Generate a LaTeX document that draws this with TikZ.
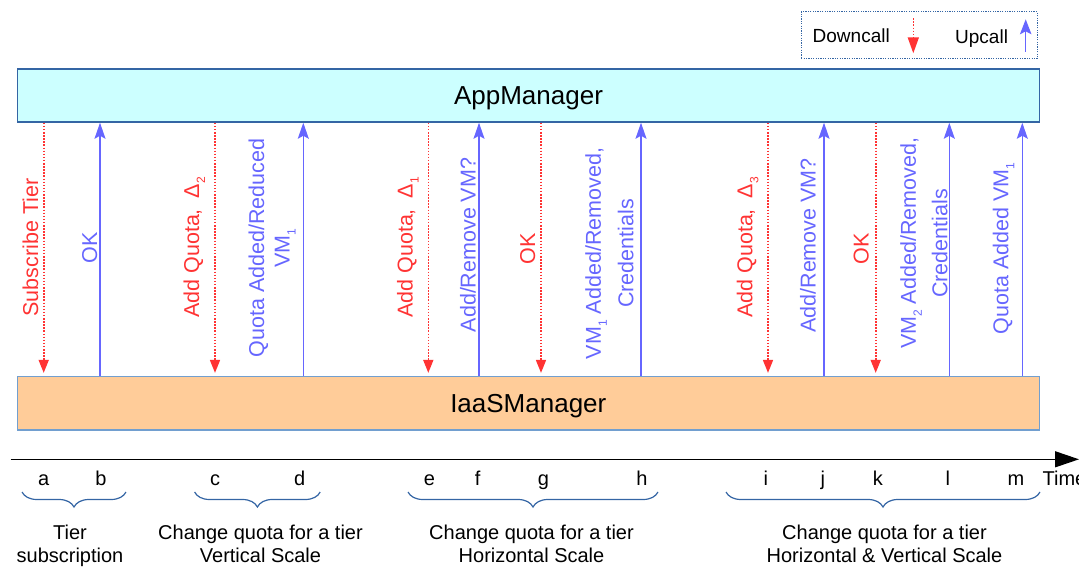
\documentclass[tikz,border=0pt]{standalone}
\usepackage{fontspec}
\setmainfont{Liberation Sans}
\usetikzlibrary{arrows.meta,decorations.pathreplacing}
\definecolor{appfill}{HTML}{CCFFFF}
\definecolor{iaasfill}{HTML}{FFCC99}
\definecolor{appedge}{HTML}{3465A4}
\definecolor{iaasedge}{HTML}{729FCF}
\definecolor{callred}{HTML}{FF3333}
\definecolor{callblue}{HTML}{6666FF}
\definecolor{bracecol}{HTML}{3465A4}
% lowered index digit, as in VM_1 or Delta_2
\newcommand{\lowidx}[1]{\raisebox{-6pt}{\fontsize{12}{12}\selectfont #1}}

\begin{document}
\begin{tikzpicture}[x=1pt,y=-1pt,
  manager/.style={line width=1.5pt, minimum width=1022pt, minimum height=53pt,
    inner sep=0pt, text depth=0pt, font=\fontsize{26}{30}\selectfont},
  downcall/.style={callred, line width=1.6pt, dash pattern=on 1.5pt off 1.6pt,
    -{Triangle[length=13pt,width=10pt]}},
  upcall/.style={callblue, line width=1.3pt,
    -{Stealth[length=16pt,width=11pt,inset=3pt]}},
  msg/.style={rotate=90, inner sep=0pt, font=\fontsize{21.5}{25.5}\selectfont},
  redmsg/.style={msg, text=callred},
  bluemsg/.style={msg, text=callblue, align=center},
  tick/.style={inner sep=0pt, anchor=base, font=\fontsize{20}{24}\selectfont},
  phase/.style={inner sep=0pt, anchor=north, align=center, font=\fontsize{20}{23}\selectfont},
  phasebrace/.style={draw=bracecol, line width=1.2pt,
    decorate, decoration={brace, mirror, amplitude=15pt}},
  legendtxt/.style={inner sep=0pt, anchor=base west, font=\fontsize{19}{23}\selectfont}
]
\useasboundingbox (0,0) rectangle (1079,567);

% legend
\node[draw=appedge, line width=1pt, dash pattern=on 1.2pt off 1.2pt,
      minimum width=236pt, minimum height=47pt, inner sep=0pt] (legend) at (919.2,35.3) {};
\node[legendtxt] (ldown) at (812.5,42.7) {Downcall};
\node[legendtxt] (lup) at (955,43.5) {Upcall};
\coordinate (dtop) at (913.3,18.3);
\coordinate (dbot) at (913.3,53.3);
\coordinate (ubot) at (1025.7,51.7);
\coordinate (utop) at (1025.7,19.3);
\draw[downcall, -{Triangle[length=16pt,width=11pt]}] (dtop) -- (dbot);
\draw[upcall, -{Stealth[length=15pt,width=11.5pt,inset=3pt]}] (ubot) -- (utop);

% the two managers
\node[manager, draw=appedge, fill=appfill] (app) at (528.5,95.5) {AppManager};
\node[manager, draw=iaasedge, fill=iaasfill, minimum height=53.3pt] (iaas) at (528.3,403.3) {IaaSManager};

% downcalls and upcalls
\foreach \x in {43.7,215,428.3,541,768,875.7}
  \draw[downcall, shorten >=3pt] (app.south -| \x,0) -- (iaas.north -| \x,0);
\foreach \x in {100,303.3,479,641,824,949.3,1022.3}
  \draw[upcall] (iaas.north -| \x,0) -- (app.south -| \x,0);

% message labels
\node[redmsg, anchor=base] (m1) at (38,247.5) {Subscribe Tier};
\node[bluemsg, anchor=base] (m2) at (97,247.5) {OK};
\node[redmsg, anchor=base] (m3) at (199,247.5) {Add Quota,\hspace{0.5em}Δ\lowidx{2}};
\node[bluemsg, anchor=north] (m4) at (248.3,248) {Quota Added/Reduced\\VM\lowidx{1}};
\node[redmsg, anchor=base] (m5) at (412.5,247.5) {Add Quota,\hspace{0.5em}Δ\lowidx{1}};
\node[bluemsg, anchor=base] (m6) at (475.5,245) {Add/Remove VM?};
\node[redmsg, anchor=base] (m7) at (535,248.5) {OK};
\node[bluemsg, anchor=north] (m8) at (585,253.5) {VM\lowidx{1} Added/Removed,\\[7pt]Credentials};
\node[redmsg, anchor=base] (m9) at (752.3,247.5) {Add Quota,\hspace{0.5em}Δ\lowidx{3}};
\node[bluemsg, anchor=base] (m10) at (815.7,245.5) {Add/Remove VM?};
\node[redmsg, anchor=base] (m11) at (868.7,249) {OK};
\node[bluemsg, anchor=north] (m12) at (900,243.4) {VM\lowidx{2} Added/Removed,\\[6pt]Credentials};
\node[bluemsg, anchor=base] (m13) at (1008.4,248.3) {Quota Added VM\lowidx{1}};

% time axis
\coordinate (axisL) at (10.7,459.3);
\coordinate (axisR) at (1079,459.3);
\draw[line width=1.3pt, -{Triangle[length=24pt,width=16pt]}] (axisL) -- (axisR);
\node[tick] (ta) at (43.7,485) {a};
\node[tick] (tb) at (100.9,485) {b};
\node[tick] (tc) at (215.2,485) {c};
\node[tick] (td) at (299.6,485) {d};
\node[tick] (te) at (429.4,485) {e};
\node[tick] (tf) at (477.6,485) {f};
\node[tick] (tg) at (543.4,485) {g};
\node[tick] (th) at (642,485) {h};
\node[tick] (ti) at (765.8,485) {i};
\node[tick] (tj) at (822.8,485) {j};
\node[tick] (tk) at (877.8,485) {k};
\node[tick] (tl) at (947.9,485) {l};
\node[tick] (tm) at (1016,485) {m};
\node[tick, anchor=base west] (time) at (1042.4,485) {Time};

% phases
\draw[phasebrace] (22,492) -- (126,492);
\draw[phasebrace] (194.6,492) -- (320.2,492);
\draw[phasebrace] (408,492) -- (658,492);
\draw[phasebrace] (726,492) -- (1040,492);
\node[phase] (p1) at (70,525.2) {Tier\\subscription};
\node[phase] (p2) at (260.5,525.2) {Change quota for a tier\\Vertical Scale};
\node[phase] (p3) at (531.5,525.2) {Change quota for a tier\\Horizontal Scale};
\node[phase] (p4) at (884.5,525.2) {Change quota for a tier\\Horizontal \& Vertical Scale};
\end{tikzpicture}
\end{document}
